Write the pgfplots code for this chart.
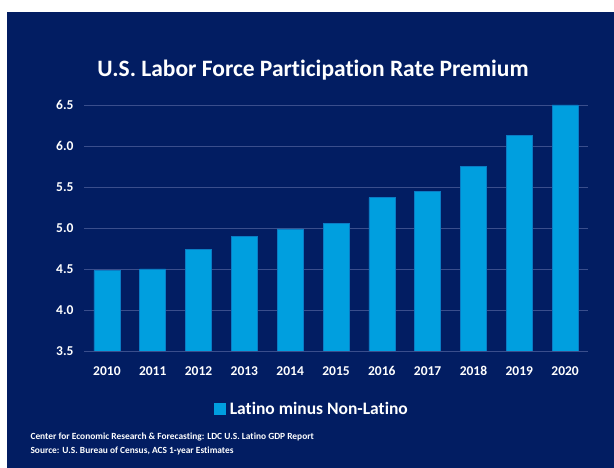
\documentclass[border=0pt]{standalone}
\usepackage{pgfplots}
\pgfplotsset{compat=1.18}
\usepackage{fontspec}
\setmainfont{Carlito}[Ligatures=NoCommon]
\definecolor{navy}{HTML}{021D62}
\definecolor{barblue}{HTML}{009FDF}
\definecolor{baredge}{HTML}{0A7CC4}
\definecolor{gridblue}{HTML}{3A4E8C}

\begin{document}
\begin{tikzpicture}[x=1pt,y=1pt]
% page and panel
\fill[white] (0,0) rectangle (614,468);
\fill[navy] (7,0) rectangle (614,456);
\node[text=white,font=\bfseries\fontsize{23.5}{27}\selectfont] at (313,398) {U.S. Labor Force Participation Rate Premium};
\begin{axis}[
    at={(84pt,117pt)}, anchor=south west,
    scale only axis, width=504pt, height=246pt,
    xmin=-0.5, xmax=10.5,
    ymin=3.5, ymax=6.5,
    ybar, bar width=26pt,
    axis line style={draw=none},
    tick style={draw=none},
    ymajorgrids,
    grid style={gridblue, line width=0.9pt},
    ytick={3.5,4,4.5,5,5.5,6,6.5},
    xtick=data,
    xticklabels={2010,2011,2012,2013,2014,2015,2016,2017,2018,2019,2020},
    /pgf/number format/assume math mode=true,
    yticklabel style={/pgf/number format/fixed, /pgf/number format/fixed zerofill,
        /pgf/number format/precision=1, text=white, font=\bfseries\fontsize{13.5}{15}\selectfont, xshift=-7pt},
    xticklabel style={text=white, font=\bfseries\fontsize{13.5}{15}\selectfont,
        anchor=base, yshift=-20pt},
    legend style={at={(0.5,0)}, anchor=center, xshift=-24pt, yshift=-58pt,
        draw=none, fill=none, text=white, font=\bfseries\fontsize{17.5}{20}\selectfont},
    legend image code/.code={\fill[barblue] (0pt,-5pt) rectangle (11pt,6pt);},
]
\addplot[fill=barblue, draw=baredge, line width=0.6pt] coordinates {
    (0,4.48) (1,4.50) (2,4.74) (3,4.90) (4,4.99) (5,5.06)
    (6,5.37) (7,5.45) (8,5.75) (9,6.13) (10,6.50)};
\addlegendentry{\hspace{2pt}Latino minus Non-Latino}
\end{axis}
\node[anchor=west, text=white, font=\bfseries\fontsize{9.4}{11}\selectfont] at (27,31) {Center for Economic Research \& Forecasting: LDC U.S. Latino GDP Report};
\node[anchor=west, text=white, font=\bfseries\fontsize{9.4}{11}\selectfont] at (27,17) {Source: U.S. Bureau of Census, ACS 1-year Estimates};
\end{tikzpicture}
\end{document}
